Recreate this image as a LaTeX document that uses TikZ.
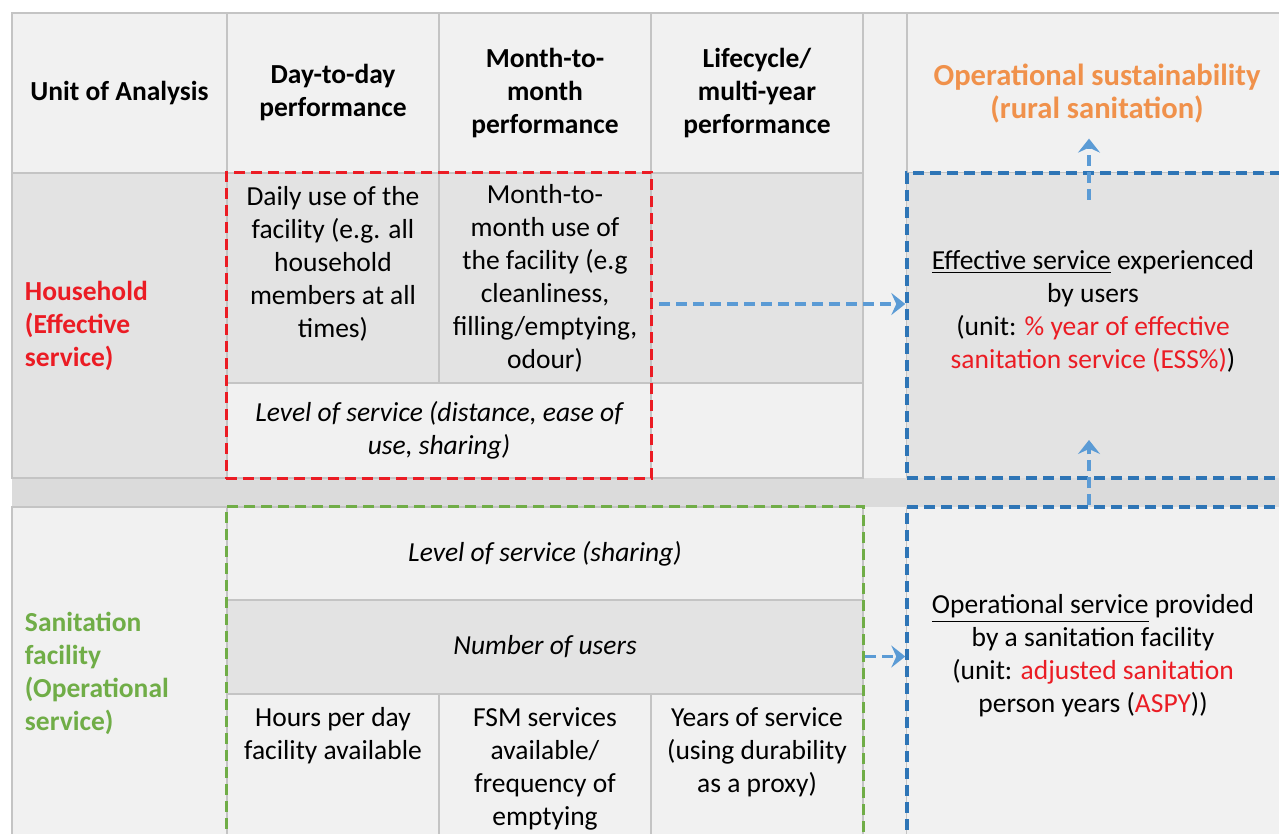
\documentclass[tikz,border=0pt]{standalone}
\usepackage{fontspec}
\setmainfont{Carlito}
\usetikzlibrary{arrows.meta,fit}
\definecolor{lightcell}{RGB}{241,241,241}
\definecolor{darkcell}{RGB}{227,227,227}
\definecolor{bandgray}{RGB}{219,219,219}
\definecolor{gridgray}{RGB}{196,196,196}
\definecolor{boxblue}{RGB}{46,117,182}
\definecolor{arrowblue}{RGB}{91,155,213}
\definecolor{hhred}{RGB}{235,28,36}
\definecolor{sangreen}{RGB}{112,173,71}
\definecolor{sustorange}{RGB}{240,145,75}
\newcommand{\bodyfont}{\fontsize{13.75}{16.5}\selectfont}
\tikzstyle{cell} = [rectangle, draw=gridgray, line width=0.75pt, fill=lightcell,
    inner sep=0pt, align=center, font=\bodyfont]
\tikzstyle{head} = [cell, font=\bodyfont\bfseries]
\tikzstyle{rowlabel} = [cell, align=left, inner xsep=6.5pt, text width=94.5pt,
    font=\bodyfont\bfseries]
\tikzstyle{celltext} = [anchor=north, inner sep=7pt, align=center, font=\bodyfont]
\tikzstyle{note} = [align=center, font=\bodyfont]
\tikzstyle{frame} = [rectangle, draw, line width=1.7pt, dash pattern=on 5.5pt off 3pt,
    inner sep=0pt]
\tikzstyle{line} = [draw=arrowblue, line width=1.6pt, dash pattern=on 5.5pt off 3pt,
    -{Stealth[length=7pt,width=11pt,inset=2.5pt]}]

\begin{document}
\begin{tikzpicture}[x=0.5pt, y=-0.5pt]
    \useasboundingbox[fill=white] (0,0) rectangle (1279,834);
    % Background strips
    \node [cell, minimum width=22pt, minimum height=413.5pt] (gap) at (885,426.5) {};
    \node [cell, draw=none, fill=bandgray, minimum width=639pt, minimum height=14.5pt] (band) at (651,492.5) {};
    % Header row
    \node [head, minimum width=107.5pt, minimum height=80pt] (unit) at (119.5,93) {Unit of Analysis};
    \node [head, minimum width=106pt, minimum height=80pt] (day) at (333,93) {Day-to-day\\performance};
    \node [head, minimum width=106pt, minimum height=80pt] (month) at (545,93) {Month-to-\\month\\performance};
    \node [head, minimum width=106pt, minimum height=80pt] (life) at (757,93) {Lifecycle/\\multi-year\\performance};
    \node [cell, minimum width=191.5pt, minimum height=80pt] (rhead) at (1098.5,93) {};
    \node [font=\fontsize{15.3}{16.5}\selectfont\bfseries, text=sustorange, align=center] (sust) at (1097,94) {Operational sustainability\\(rural sanitation)};
    % Household row
    \node [rowlabel, fill=darkcell, minimum height=152.5pt, text=hhred] (hhlabel) at (119.5,325.5) {Household\\(Effective\\service)};
    \node [cell, fill=darkcell, minimum width=106pt, minimum height=105pt] (daily) at (333,278) {};
    \node [celltext] (dailytext) at (daily.north) {Daily use of the\\facility (e.g. all\\household\\members at all\\times)};
    \node [cell, fill=darkcell, minimum width=106pt, minimum height=105pt] (monthuse) at (545,278) {Month-to-\\month use of\\the facility (e.g\\cleanliness,\\filling/emptying,\\odour)};
    \node [cell, fill=darkcell, minimum width=106pt, minimum height=105pt] (lifeuse) at (757,278) {};
    \node [cell, minimum width=212pt, minimum height=47.5pt, font=\bodyfont\itshape] (hhlevel) at (439,430.5) {Level of service (distance, ease of\\use, sharing)};
    \node [cell, minimum width=106pt, minimum height=47.5pt] (lifelevel) at (757,430.5) {};
    \node [frame, draw=boxblue, fill=darkcell, minimum width=191.5pt, minimum height=152.5pt] (effbox) at (1098.5,325.5) {};
    \node [note] (efftext) at (1093,311) {\underline{Effective service} experienced\\by users\\(unit: \textcolor{hhred}{\% year of effective}\\\textcolor{hhred}{sanitation service (ESS\%)})};
    % Sanitation facility row
    \node [rowlabel, minimum height=166.5pt, text=sangreen] (sanlabel) at (119.5,673.5) {Sanitation\\facility\\(Operational\\service)};
    \node [cell, minimum width=318pt, minimum height=46.5pt, font=\bodyfont\itshape] (sanlevel) at (545,553.5) {Level of service (sharing)};
    \node [cell, fill=darkcell, minimum width=318pt, minimum height=47pt, font=\bodyfont\itshape] (users) at (545,647) {Number of users};
    \node [cell, minimum width=106pt, minimum height=73pt] (hours) at (333,767) {};
    \node [celltext] (hourstext) at (hours.north) {Hours per day\\facility available};
    \node [cell, minimum width=106pt, minimum height=73pt] (fsm) at (545,767) {};
    \node [celltext] (fsmtext) at (fsm.north) {FSM services\\available/\\frequency of\\emptying};
    \node [cell, minimum width=106pt, minimum height=73pt] (years) at (757,767) {};
    \node [celltext] (yearstext) at (years.north) {Years of service\\(using durability\\as a proxy)};
    \node [frame, draw=boxblue, fill=lightcell, minimum width=191.5pt, minimum height=166.5pt] (opbox) at (1098.5,673.5) {};
    \node [note] (optext) at (1093,656) {\underline{Operational service} provided\\by a sanitation facility\\(unit: \textcolor{hhred}{adjusted sanitation}\\person years (\textcolor{hhred}{ASPY}))};
    % Dashed groups
    \node [frame, draw=hhred, fit=(daily)(hhlevel)] (hhbox) {};
    \node [frame, draw=sangreen, fit=(sanlevel)(years)] (sanbox) {};
    % Draw arrows
    \coordinate (uptip) at (1089,440);
    \coordinate (uptail) at (1089,200);
    \path [line, shorten <=3pt] ([yshift=10.75pt]hhbox.east) -- ([yshift=10.75pt]effbox.west);
    \path [line] ([yshift=8.5pt]sanbox.east) -- ([yshift=8.5pt]opbox.west);
    \path [line] (opbox.north -| uptip) -- (uptip);
    \path [line, shorten >=4pt] (uptail) -- (uptail |- sust.south);
\end{tikzpicture}
\end{document}
